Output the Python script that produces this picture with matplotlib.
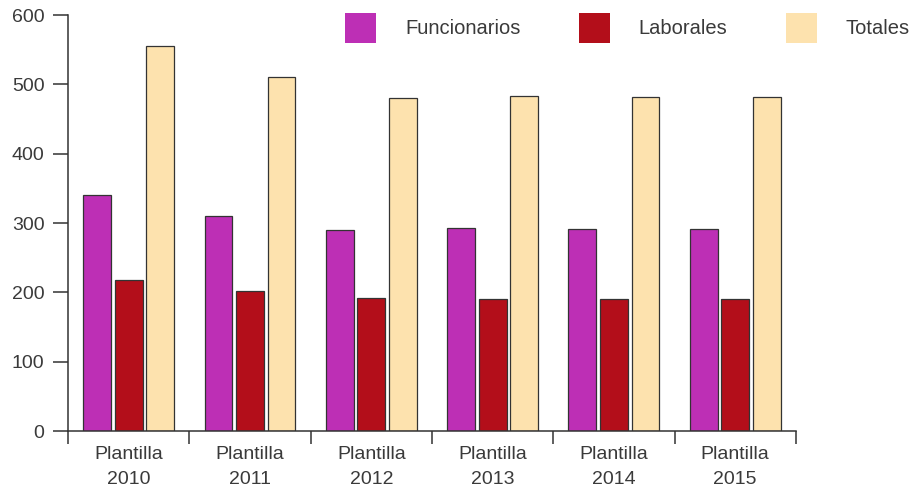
"""Plantilla 2010-2015: funcionarios, laborales y totales."""

import matplotlib

matplotlib.use("Agg")
import matplotlib.pyplot as plt
import numpy as np

plt.rcParams["font.family"] = ["Liberation Sans", "DejaVu Sans"]

years = ["2010", "2011", "2012", "2013", "2014", "2015"]
funcionarios = [340, 310, 290, 293, 292, 292]
laborales = [218, 202, 192, 191, 191, 191]
totales = [556, 510, 481, 483, 482, 482]

series_names = ["Funcionarios", "Laborales", "Totales"]
colors = ["#BD2FB5", "#B30E1A", "#FDE2AE"]
TEXT = "#3a3a3a"
EDGE = "#333333"

fig = plt.figure(figsize=(9.18, 4.94), dpi=100)
ax = fig.add_axes([0.0741, 0.1275, 0.867 - 0.0741, 0.9696 - 0.1275])

x = np.arange(len(years))
width = 0.23
step = 0.26
for i, (vals, name, color) in enumerate(zip([funcionarios, laborales, totales], series_names, colors)):
    ax.bar(x + (i - 1) * step, vals, width=width, color=color, edgecolor=EDGE,
           linewidth=0.9, label=name)

ax.set_xlim(-0.5, len(years) - 0.5)
ax.set_ylim(0, 600)
ax.set_yticks(range(0, 601, 100))
ax.tick_params(axis="y", length=11, width=1.1, color=EDGE, pad=6, labelsize=14, labelcolor=TEXT)

# group boundaries as ticks, labels centred on the minor ticks
ax.set_xticks(np.arange(-0.5, len(years), 1.0))
ax.set_xticklabels([])
ax.set_xticks(x, minor=True)
ax.set_xticklabels([f"Plantilla\n{y}" for y in years], minor=True, linespacing=1.6)
ax.tick_params(axis="x", which="major", length=9, width=1.1, color=EDGE)
ax.tick_params(axis="x", which="minor", length=0, pad=11, labelsize=14, labelcolor=TEXT)

for side in ["top", "right"]:
    ax.spines[side].set_visible(False)
for side in ["left", "bottom"]:
    ax.spines[side].set_color(EDGE)
    ax.spines[side].set_linewidth(1.1)

leg = ax.legend(loc="upper left", bbox_to_anchor=(0.3758, 0.974), bbox_transform=fig.transFigure,
                ncol=3, frameon=False, fontsize=14.5, handlelength=1.54, handleheight=1.94,
                handletextpad=1.44, columnspacing=2.9, borderpad=0, borderaxespad=0)
for h in leg.legend_handles:
    h.set_edgecolor("none")
for t in leg.get_texts():
    t.set_color(TEXT)

fig.savefig("out.png", dpi=100)
